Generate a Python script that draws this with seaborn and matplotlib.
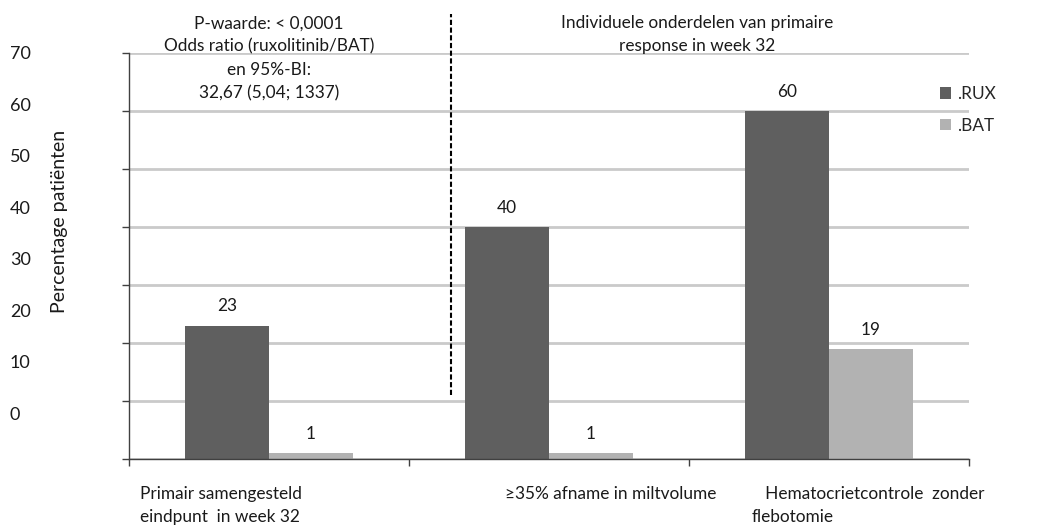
import matplotlib
matplotlib.use("Agg")
import matplotlib.pyplot as plt
from matplotlib.patches import Patch
import pandas as pd
import seaborn as sns

# data
categories = ["Primair samengesteld\neindpunt  in week 32",
              "≥35% afname in miltvolume",
              "   Hematocrietcontrole  zonder\nflebotomie"]
groups = [".RUX", ".BAT"]
rux = [23, 40, 60]
bat = [1, 1, 19]
y_ticks = [0, 10, 20, 30, 40, 50, 60, 70]
colors = ["#5f5f5f", "#b2b2b2"]

note_left = "P-waarde: < 0,0001\nOdds ratio (ruxolitinib/BAT)\nen 95%-BI:\n32,67 (5,04; 1337)"
note_right = "Individuele onderdelen van primaire\nresponse in week 32"

df = pd.DataFrame({
    "categorie": categories * 2,
    "groep": [groups[0]] * 3 + [groups[1]] * 3,
    "waarde": rux + bat,
})

sns.set_style("white")
plt.rcParams["font.family"] = ["Lato", "DejaVu Sans"]
fs = 12.4
txt_col = "#1a1a1a"
axis_col = "#404040"

fig = plt.figure(figsize=(10.4, 5.26), dpi=100)
ax = fig.add_axes([129 / 1040, 67 / 526, 840 / 1040, 406 / 526])

sns.barplot(data=df, x="categorie", y="waarde", hue="groep", hue_order=groups,
            palette=colors, width=0.6, saturation=1, legend=False, linewidth=0,
            ax=ax)

for c in ax.containers:
    ax.bar_label(c, fmt="%d", padding=8, fontsize=fs, color=txt_col)

ax.set_xlim(-0.5, 2.5)
ax.set_ylim(0, 70)
ax.set_yticks(y_ticks)
ax.set_xticks([-0.5, 0.5, 1.5, 2.5])
ax.tick_params(axis="both", direction="out", length=5, width=1, color=axis_col,
               left=True, bottom=True, labelleft=False, labelbottom=False)
ax.set_axisbelow(True)
ax.yaxis.grid(True, color="#cacaca", lw=2)
sns.despine(ax=ax)
for s in ["left", "bottom"]:
    ax.spines[s].set_color(axis_col)
    ax.spines[s].set_linewidth(1)
ax.set_xlabel("")
ax.set_ylabel("Percentage patiënten", fontsize=14, color=txt_col)
ax.yaxis.set_label_coords(-0.073, 0.586)

# category labels under the axis
xt = ax.get_xaxis_transform()
label_x = [-0.461, 0.843, 1.725]
for x, lab in zip(label_x, categories):
    ax.text(x, -0.066, lab, transform=xt, ha="left", va="top", fontsize=fs,
            linespacing=1.55, color=txt_col)

# annotations above the plot
ax.text(0, 76.5, note_left, ha="center", va="top", fontsize=fs, linespacing=1.55,
        color=txt_col)
ax.text(1.53, 76.5, note_right, ha="center", va="top", fontsize=fs, linespacing=1.55,
        color=txt_col)
ax.plot([0.65, 0.65], [11, 76.7], ls=(0, (2.5, 1.2)), color="black", lw=1.5,
        clip_on=False)
ax.set_ylim(0, 70)

# tick labels as drawn in the reference (offset from the gridlines)
ax2 = ax.twinx()
ax2.set_ylim(-8.9, 70)
ax2.set_yticks(y_ticks)
ax2.set_yticklabels([str(v) for v in y_ticks], ha="left", fontsize=13,
                    color=txt_col)
ax2.yaxis.tick_left()
ax2.tick_params(axis="y", length=0, pad=119 * 0.72)
for s in ax2.spines.values():
    s.set_visible(False)

handles = [Patch(facecolor=c, edgecolor="none") for c in colors]
ax.legend(handles, groups, loc="upper left", bbox_to_anchor=(0.9655, 0.918),
          frameon=False, borderaxespad=0, borderpad=0, handlelength=0.65,
          handleheight=0.65, handletextpad=0.35, labelspacing=0.9, fontsize=fs)

fig.savefig("out.png", dpi=100)
